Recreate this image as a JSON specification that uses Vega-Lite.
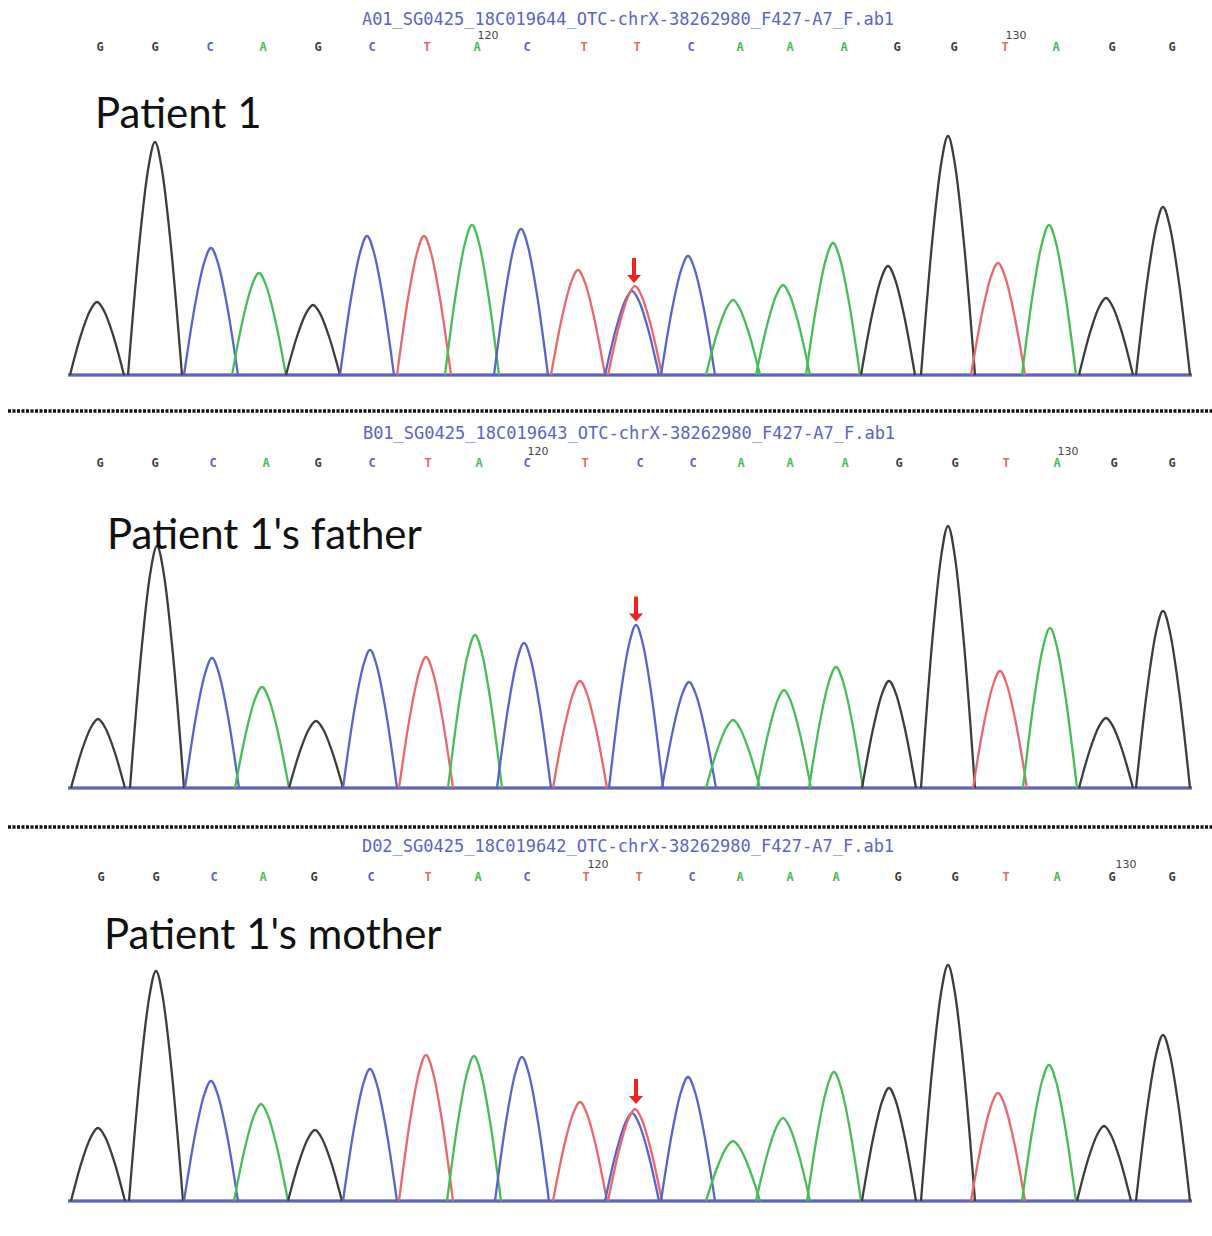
{
"$schema":"https://vega.github.io/schema/vega-lite/v6.json",
"background":"white",
"padding":0,
"spacing":0,
"config":{"view":{"stroke":null},"concat":{"spacing":0}},
"datasets":{
"t1":[
{"k":91,"b":"G","x":4068,"y":0},{"k":91,"b":"G","x":5192,"y":0},
{"k":92,"b":"A","x":4068,"y":0},{"k":92,"b":"A","x":5192,"y":0},
{"k":93,"b":"T","x":4068,"y":0},{"k":93,"b":"T","x":5192,"y":0},
{"k":94,"b":"C","x":4068,"y":0},{"k":94,"b":"C","x":5192,"y":0},
{"k":1,"b":"G","x":4070,"y":0},{"k":1,"b":"G","x":4081,"y":402},{"k":1,"b":"G","x":4090,"y":642},{"k":1,"b":"G","x":4097,"y":730},{"k":1,"b":"G","x":4104,"y":642},{"k":1,"b":"G","x":4113,"y":402},{"k":1,"b":"G","x":4124,"y":0},
{"k":2,"b":"G","x":4128,"y":0},{"k":2,"b":"G","x":4139,"y":1282},{"k":2,"b":"G","x":4148,"y":2050},{"k":2,"b":"G","x":4155,"y":2330},{"k":2,"b":"G","x":4162,"y":2050},{"k":2,"b":"G","x":4171,"y":1282},{"k":2,"b":"G","x":4182,"y":0},
{"k":3,"b":"C","x":4184,"y":0},{"k":3,"b":"C","x":4195,"y":699},{"k":3,"b":"C","x":4204,"y":1118},{"k":3,"b":"C","x":4211,"y":1270},{"k":3,"b":"C","x":4218,"y":1118},{"k":3,"b":"C","x":4227,"y":699},{"k":3,"b":"C","x":4238,"y":0},
{"k":4,"b":"A","x":4232,"y":0},{"k":4,"b":"A","x":4243,"y":561},{"k":4,"b":"A","x":4252,"y":898},{"k":4,"b":"A","x":4259,"y":1020},{"k":4,"b":"A","x":4266,"y":898},{"k":4,"b":"A","x":4275,"y":561},{"k":4,"b":"A","x":4286,"y":0},
{"k":5,"b":"G","x":4286,"y":0},{"k":5,"b":"G","x":4297,"y":385},{"k":5,"b":"G","x":4306,"y":616},{"k":5,"b":"G","x":4313,"y":700},{"k":5,"b":"G","x":4320,"y":616},{"k":5,"b":"G","x":4329,"y":385},{"k":5,"b":"G","x":4340,"y":0},
{"k":6,"b":"C","x":4340,"y":0},{"k":6,"b":"C","x":4351,"y":765},{"k":6,"b":"C","x":4360,"y":1223},{"k":6,"b":"C","x":4367,"y":1390},{"k":6,"b":"C","x":4374,"y":1223},{"k":6,"b":"C","x":4383,"y":765},{"k":6,"b":"C","x":4394,"y":0},
{"k":7,"b":"T","x":4397,"y":0},{"k":7,"b":"T","x":4408,"y":765},{"k":7,"b":"T","x":4417,"y":1223},{"k":7,"b":"T","x":4424,"y":1390},{"k":7,"b":"T","x":4431,"y":1223},{"k":7,"b":"T","x":4440,"y":765},{"k":7,"b":"T","x":4451,"y":0},
{"k":8,"b":"A","x":4445,"y":0},{"k":8,"b":"A","x":4456,"y":825},{"k":8,"b":"A","x":4465,"y":1320},{"k":8,"b":"A","x":4472,"y":1500},{"k":8,"b":"A","x":4479,"y":1320},{"k":8,"b":"A","x":4488,"y":825},{"k":8,"b":"A","x":4499,"y":0},
{"k":9,"b":"C","x":4494,"y":0},{"k":9,"b":"C","x":4505,"y":803},{"k":9,"b":"C","x":4514,"y":1285},{"k":9,"b":"C","x":4521,"y":1460},{"k":9,"b":"C","x":4528,"y":1285},{"k":9,"b":"C","x":4537,"y":803},{"k":9,"b":"C","x":4548,"y":0},
{"k":10,"b":"T","x":4551,"y":0},{"k":10,"b":"T","x":4562,"y":578},{"k":10,"b":"T","x":4571,"y":924},{"k":10,"b":"T","x":4578,"y":1050},{"k":10,"b":"T","x":4585,"y":924},{"k":10,"b":"T","x":4594,"y":578},{"k":10,"b":"T","x":4605,"y":0},
{"k":22,"b":"C","x":4605,"y":0},{"k":22,"b":"C","x":4616,"y":462},{"k":22,"b":"C","x":4625,"y":739},{"k":22,"b":"C","x":4632,"y":840},{"k":22,"b":"C","x":4639,"y":739},{"k":22,"b":"C","x":4648,"y":462},{"k":22,"b":"C","x":4659,"y":0},
{"k":11,"b":"T","x":4608,"y":0},{"k":11,"b":"T","x":4619,"y":490},{"k":11,"b":"T","x":4628,"y":783},{"k":11,"b":"T","x":4635,"y":890},{"k":11,"b":"T","x":4642,"y":783},{"k":11,"b":"T","x":4651,"y":490},{"k":11,"b":"T","x":4662,"y":0},
{"k":12,"b":"C","x":4661,"y":0},{"k":12,"b":"C","x":4672,"y":655},{"k":12,"b":"C","x":4681,"y":1047},{"k":12,"b":"C","x":4688,"y":1190},{"k":12,"b":"C","x":4695,"y":1047},{"k":12,"b":"C","x":4704,"y":655},{"k":12,"b":"C","x":4715,"y":0},
{"k":13,"b":"A","x":4706,"y":0},{"k":13,"b":"A","x":4717,"y":413},{"k":13,"b":"A","x":4726,"y":660},{"k":13,"b":"A","x":4733,"y":750},{"k":13,"b":"A","x":4740,"y":660},{"k":13,"b":"A","x":4749,"y":413},{"k":13,"b":"A","x":4760,"y":0},
{"k":14,"b":"A","x":4756,"y":0},{"k":14,"b":"A","x":4767,"y":495},{"k":14,"b":"A","x":4776,"y":792},{"k":14,"b":"A","x":4783,"y":900},{"k":14,"b":"A","x":4790,"y":792},{"k":14,"b":"A","x":4799,"y":495},{"k":14,"b":"A","x":4810,"y":0},
{"k":15,"b":"A","x":4806,"y":0},{"k":15,"b":"A","x":4817,"y":726},{"k":15,"b":"A","x":4826,"y":1162},{"k":15,"b":"A","x":4833,"y":1320},{"k":15,"b":"A","x":4840,"y":1162},{"k":15,"b":"A","x":4849,"y":726},{"k":15,"b":"A","x":4860,"y":0},
{"k":16,"b":"G","x":4861,"y":0},{"k":16,"b":"G","x":4872,"y":600},{"k":16,"b":"G","x":4881,"y":959},{"k":16,"b":"G","x":4888,"y":1090},{"k":16,"b":"G","x":4895,"y":959},{"k":16,"b":"G","x":4904,"y":600},{"k":16,"b":"G","x":4915,"y":0},
{"k":17,"b":"G","x":4921,"y":0},{"k":17,"b":"G","x":4932,"y":1315},{"k":17,"b":"G","x":4941,"y":2103},{"k":17,"b":"G","x":4948,"y":2390},{"k":17,"b":"G","x":4955,"y":2103},{"k":17,"b":"G","x":4964,"y":1315},{"k":17,"b":"G","x":4975,"y":0},
{"k":18,"b":"T","x":4971,"y":0},{"k":18,"b":"T","x":4982,"y":616},{"k":18,"b":"T","x":4991,"y":986},{"k":18,"b":"T","x":4998,"y":1120},{"k":18,"b":"T","x":5005,"y":986},{"k":18,"b":"T","x":5014,"y":616},{"k":18,"b":"T","x":5025,"y":0},
{"k":19,"b":"A","x":5022,"y":0},{"k":19,"b":"A","x":5033,"y":825},{"k":19,"b":"A","x":5042,"y":1320},{"k":19,"b":"A","x":5049,"y":1500},{"k":19,"b":"A","x":5056,"y":1320},{"k":19,"b":"A","x":5065,"y":825},{"k":19,"b":"A","x":5076,"y":0},
{"k":20,"b":"G","x":5079,"y":0},{"k":20,"b":"G","x":5090,"y":424},{"k":20,"b":"G","x":5099,"y":678},{"k":20,"b":"G","x":5106,"y":770},{"k":20,"b":"G","x":5113,"y":678},{"k":20,"b":"G","x":5122,"y":424},{"k":20,"b":"G","x":5133,"y":0},
{"k":21,"b":"G","x":5136,"y":0},{"k":21,"b":"G","x":5147,"y":924},{"k":21,"b":"G","x":5156,"y":1478},{"k":21,"b":"G","x":5163,"y":1680},{"k":21,"b":"G","x":5170,"y":1478},{"k":21,"b":"G","x":5179,"y":924},{"k":21,"b":"G","x":5190,"y":0}
],
"t2":[
{"k":91,"b":"G","x":4068,"y":0},{"k":91,"b":"G","x":5192,"y":0},
{"k":92,"b":"A","x":4068,"y":0},{"k":92,"b":"A","x":5192,"y":0},
{"k":93,"b":"T","x":4068,"y":0},{"k":93,"b":"T","x":5192,"y":0},
{"k":94,"b":"C","x":4068,"y":0},{"k":94,"b":"C","x":5192,"y":0},
{"k":1,"b":"G","x":4071,"y":0},{"k":1,"b":"G","x":4082,"y":380},{"k":1,"b":"G","x":4091,"y":607},{"k":1,"b":"G","x":4098,"y":690},{"k":1,"b":"G","x":4105,"y":607},{"k":1,"b":"G","x":4114,"y":380},{"k":1,"b":"G","x":4125,"y":0},
{"k":2,"b":"G","x":4130,"y":0},{"k":2,"b":"G","x":4141,"y":1331},{"k":2,"b":"G","x":4150,"y":2130},{"k":2,"b":"G","x":4157,"y":2420},{"k":2,"b":"G","x":4164,"y":2130},{"k":2,"b":"G","x":4173,"y":1331},{"k":2,"b":"G","x":4184,"y":0},
{"k":3,"b":"C","x":4185,"y":0},{"k":3,"b":"C","x":4196,"y":715},{"k":3,"b":"C","x":4205,"y":1144},{"k":3,"b":"C","x":4212,"y":1300},{"k":3,"b":"C","x":4219,"y":1144},{"k":3,"b":"C","x":4228,"y":715},{"k":3,"b":"C","x":4239,"y":0},
{"k":4,"b":"A","x":4235,"y":0},{"k":4,"b":"A","x":4246,"y":556},{"k":4,"b":"A","x":4255,"y":889},{"k":4,"b":"A","x":4262,"y":1010},{"k":4,"b":"A","x":4269,"y":889},{"k":4,"b":"A","x":4278,"y":556},{"k":4,"b":"A","x":4289,"y":0},
{"k":5,"b":"G","x":4289,"y":0},{"k":5,"b":"G","x":4300,"y":369},{"k":5,"b":"G","x":4309,"y":590},{"k":5,"b":"G","x":4316,"y":670},{"k":5,"b":"G","x":4323,"y":590},{"k":5,"b":"G","x":4332,"y":369},{"k":5,"b":"G","x":4343,"y":0},
{"k":6,"b":"C","x":4343,"y":0},{"k":6,"b":"C","x":4354,"y":759},{"k":6,"b":"C","x":4363,"y":1214},{"k":6,"b":"C","x":4370,"y":1380},{"k":6,"b":"C","x":4377,"y":1214},{"k":6,"b":"C","x":4386,"y":759},{"k":6,"b":"C","x":4397,"y":0},
{"k":7,"b":"T","x":4399,"y":0},{"k":7,"b":"T","x":4410,"y":721},{"k":7,"b":"T","x":4419,"y":1153},{"k":7,"b":"T","x":4426,"y":1310},{"k":7,"b":"T","x":4433,"y":1153},{"k":7,"b":"T","x":4442,"y":721},{"k":7,"b":"T","x":4453,"y":0},
{"k":8,"b":"A","x":4448,"y":0},{"k":8,"b":"A","x":4459,"y":842},{"k":8,"b":"A","x":4468,"y":1346},{"k":8,"b":"A","x":4475,"y":1530},{"k":8,"b":"A","x":4482,"y":1346},{"k":8,"b":"A","x":4491,"y":842},{"k":8,"b":"A","x":4502,"y":0},
{"k":9,"b":"C","x":4497,"y":0},{"k":9,"b":"C","x":4508,"y":798},{"k":9,"b":"C","x":4517,"y":1276},{"k":9,"b":"C","x":4524,"y":1450},{"k":9,"b":"C","x":4531,"y":1276},{"k":9,"b":"C","x":4540,"y":798},{"k":9,"b":"C","x":4551,"y":0},
{"k":10,"b":"T","x":4553,"y":0},{"k":10,"b":"T","x":4564,"y":589},{"k":10,"b":"T","x":4573,"y":942},{"k":10,"b":"T","x":4580,"y":1070},{"k":10,"b":"T","x":4587,"y":942},{"k":10,"b":"T","x":4596,"y":589},{"k":10,"b":"T","x":4607,"y":0},
{"k":11,"b":"C","x":4609,"y":0},{"k":11,"b":"C","x":4620,"y":897},{"k":11,"b":"C","x":4629,"y":1434},{"k":11,"b":"C","x":4636,"y":1630},{"k":11,"b":"C","x":4643,"y":1434},{"k":11,"b":"C","x":4652,"y":897},{"k":11,"b":"C","x":4663,"y":0},
{"k":12,"b":"C","x":4662,"y":0},{"k":12,"b":"C","x":4673,"y":583},{"k":12,"b":"C","x":4682,"y":933},{"k":12,"b":"C","x":4689,"y":1060},{"k":12,"b":"C","x":4696,"y":933},{"k":12,"b":"C","x":4705,"y":583},{"k":12,"b":"C","x":4716,"y":0},
{"k":13,"b":"A","x":4706,"y":0},{"k":13,"b":"A","x":4717,"y":374},{"k":13,"b":"A","x":4726,"y":598},{"k":13,"b":"A","x":4733,"y":680},{"k":13,"b":"A","x":4740,"y":598},{"k":13,"b":"A","x":4749,"y":374},{"k":13,"b":"A","x":4760,"y":0},
{"k":14,"b":"A","x":4757,"y":0},{"k":14,"b":"A","x":4768,"y":539},{"k":14,"b":"A","x":4777,"y":862},{"k":14,"b":"A","x":4784,"y":980},{"k":14,"b":"A","x":4791,"y":862},{"k":14,"b":"A","x":4800,"y":539},{"k":14,"b":"A","x":4811,"y":0},
{"k":15,"b":"A","x":4809,"y":0},{"k":15,"b":"A","x":4820,"y":666},{"k":15,"b":"A","x":4829,"y":1065},{"k":15,"b":"A","x":4836,"y":1210},{"k":15,"b":"A","x":4843,"y":1065},{"k":15,"b":"A","x":4852,"y":666},{"k":15,"b":"A","x":4863,"y":0},
{"k":16,"b":"G","x":4862,"y":0},{"k":16,"b":"G","x":4873,"y":589},{"k":16,"b":"G","x":4882,"y":942},{"k":16,"b":"G","x":4889,"y":1070},{"k":16,"b":"G","x":4896,"y":942},{"k":16,"b":"G","x":4905,"y":589},{"k":16,"b":"G","x":4916,"y":0},
{"k":17,"b":"G","x":4921,"y":0},{"k":17,"b":"G","x":4932,"y":1441},{"k":17,"b":"G","x":4941,"y":2306},{"k":17,"b":"G","x":4948,"y":2620},{"k":17,"b":"G","x":4955,"y":2306},{"k":17,"b":"G","x":4964,"y":1441},{"k":17,"b":"G","x":4975,"y":0},
{"k":18,"b":"T","x":4973,"y":0},{"k":18,"b":"T","x":4984,"y":644},{"k":18,"b":"T","x":4993,"y":1030},{"k":18,"b":"T","x":5000,"y":1170},{"k":18,"b":"T","x":5007,"y":1030},{"k":18,"b":"T","x":5016,"y":644},{"k":18,"b":"T","x":5027,"y":0},
{"k":19,"b":"A","x":5023,"y":0},{"k":19,"b":"A","x":5034,"y":880},{"k":19,"b":"A","x":5043,"y":1408},{"k":19,"b":"A","x":5050,"y":1600},{"k":19,"b":"A","x":5057,"y":1408},{"k":19,"b":"A","x":5066,"y":880},{"k":19,"b":"A","x":5077,"y":0},
{"k":20,"b":"G","x":5079,"y":0},{"k":20,"b":"G","x":5090,"y":385},{"k":20,"b":"G","x":5099,"y":616},{"k":20,"b":"G","x":5106,"y":700},{"k":20,"b":"G","x":5113,"y":616},{"k":20,"b":"G","x":5122,"y":385},{"k":20,"b":"G","x":5133,"y":0},
{"k":21,"b":"G","x":5136,"y":0},{"k":21,"b":"G","x":5147,"y":974},{"k":21,"b":"G","x":5156,"y":1558},{"k":21,"b":"G","x":5163,"y":1770},{"k":21,"b":"G","x":5170,"y":1558},{"k":21,"b":"G","x":5179,"y":974},{"k":21,"b":"G","x":5190,"y":0}
],
"t3":[
{"k":91,"b":"G","x":4068,"y":0},{"k":91,"b":"G","x":5192,"y":0},
{"k":92,"b":"A","x":4068,"y":0},{"k":92,"b":"A","x":5192,"y":0},
{"k":93,"b":"T","x":4068,"y":0},{"k":93,"b":"T","x":5192,"y":0},
{"k":94,"b":"C","x":4068,"y":0},{"k":94,"b":"C","x":5192,"y":0},
{"k":1,"b":"G","x":4071,"y":0},{"k":1,"b":"G","x":4082,"y":402},{"k":1,"b":"G","x":4091,"y":642},{"k":1,"b":"G","x":4098,"y":730},{"k":1,"b":"G","x":4105,"y":642},{"k":1,"b":"G","x":4114,"y":402},{"k":1,"b":"G","x":4125,"y":0},
{"k":2,"b":"G","x":4129,"y":0},{"k":2,"b":"G","x":4140,"y":1265},{"k":2,"b":"G","x":4149,"y":2024},{"k":2,"b":"G","x":4156,"y":2300},{"k":2,"b":"G","x":4163,"y":2024},{"k":2,"b":"G","x":4172,"y":1265},{"k":2,"b":"G","x":4183,"y":0},
{"k":3,"b":"C","x":4184,"y":0},{"k":3,"b":"C","x":4195,"y":660},{"k":3,"b":"C","x":4204,"y":1056},{"k":3,"b":"C","x":4211,"y":1200},{"k":3,"b":"C","x":4218,"y":1056},{"k":3,"b":"C","x":4227,"y":660},{"k":3,"b":"C","x":4238,"y":0},
{"k":4,"b":"A","x":4234,"y":0},{"k":4,"b":"A","x":4245,"y":534},{"k":4,"b":"A","x":4254,"y":854},{"k":4,"b":"A","x":4261,"y":970},{"k":4,"b":"A","x":4268,"y":854},{"k":4,"b":"A","x":4277,"y":534},{"k":4,"b":"A","x":4288,"y":0},
{"k":5,"b":"G","x":4288,"y":0},{"k":5,"b":"G","x":4299,"y":391},{"k":5,"b":"G","x":4308,"y":625},{"k":5,"b":"G","x":4315,"y":710},{"k":5,"b":"G","x":4322,"y":625},{"k":5,"b":"G","x":4331,"y":391},{"k":5,"b":"G","x":4342,"y":0},
{"k":6,"b":"C","x":4343,"y":0},{"k":6,"b":"C","x":4354,"y":726},{"k":6,"b":"C","x":4363,"y":1162},{"k":6,"b":"C","x":4370,"y":1320},{"k":6,"b":"C","x":4377,"y":1162},{"k":6,"b":"C","x":4386,"y":726},{"k":6,"b":"C","x":4397,"y":0},
{"k":7,"b":"T","x":4399,"y":0},{"k":7,"b":"T","x":4410,"y":803},{"k":7,"b":"T","x":4419,"y":1285},{"k":7,"b":"T","x":4426,"y":1460},{"k":7,"b":"T","x":4433,"y":1285},{"k":7,"b":"T","x":4442,"y":803},{"k":7,"b":"T","x":4453,"y":0},
{"k":8,"b":"A","x":4447,"y":0},{"k":8,"b":"A","x":4458,"y":798},{"k":8,"b":"A","x":4467,"y":1276},{"k":8,"b":"A","x":4474,"y":1450},{"k":8,"b":"A","x":4481,"y":1276},{"k":8,"b":"A","x":4490,"y":798},{"k":8,"b":"A","x":4501,"y":0},
{"k":9,"b":"C","x":4495,"y":0},{"k":9,"b":"C","x":4506,"y":792},{"k":9,"b":"C","x":4515,"y":1267},{"k":9,"b":"C","x":4522,"y":1440},{"k":9,"b":"C","x":4529,"y":1267},{"k":9,"b":"C","x":4538,"y":792},{"k":9,"b":"C","x":4549,"y":0},
{"k":10,"b":"T","x":4553,"y":0},{"k":10,"b":"T","x":4564,"y":545},{"k":10,"b":"T","x":4573,"y":871},{"k":10,"b":"T","x":4580,"y":990},{"k":10,"b":"T","x":4587,"y":871},{"k":10,"b":"T","x":4596,"y":545},{"k":10,"b":"T","x":4607,"y":0},
{"k":22,"b":"C","x":4605,"y":0},{"k":22,"b":"C","x":4616,"y":484},{"k":22,"b":"C","x":4625,"y":774},{"k":22,"b":"C","x":4632,"y":880},{"k":22,"b":"C","x":4639,"y":774},{"k":22,"b":"C","x":4648,"y":484},{"k":22,"b":"C","x":4659,"y":0},
{"k":11,"b":"T","x":4608,"y":0},{"k":11,"b":"T","x":4619,"y":506},{"k":11,"b":"T","x":4628,"y":810},{"k":11,"b":"T","x":4635,"y":920},{"k":11,"b":"T","x":4642,"y":810},{"k":11,"b":"T","x":4651,"y":506},{"k":11,"b":"T","x":4662,"y":0},
{"k":12,"b":"C","x":4661,"y":0},{"k":12,"b":"C","x":4672,"y":682},{"k":12,"b":"C","x":4681,"y":1091},{"k":12,"b":"C","x":4688,"y":1240},{"k":12,"b":"C","x":4695,"y":1091},{"k":12,"b":"C","x":4704,"y":682},{"k":12,"b":"C","x":4715,"y":0},
{"k":13,"b":"A","x":4706,"y":0},{"k":13,"b":"A","x":4717,"y":330},{"k":13,"b":"A","x":4726,"y":528},{"k":13,"b":"A","x":4733,"y":600},{"k":13,"b":"A","x":4740,"y":528},{"k":13,"b":"A","x":4749,"y":330},{"k":13,"b":"A","x":4760,"y":0},
{"k":14,"b":"A","x":4756,"y":0},{"k":14,"b":"A","x":4767,"y":457},{"k":14,"b":"A","x":4776,"y":730},{"k":14,"b":"A","x":4783,"y":830},{"k":14,"b":"A","x":4790,"y":730},{"k":14,"b":"A","x":4799,"y":457},{"k":14,"b":"A","x":4810,"y":0},
{"k":15,"b":"A","x":4807,"y":0},{"k":15,"b":"A","x":4818,"y":710},{"k":15,"b":"A","x":4827,"y":1135},{"k":15,"b":"A","x":4834,"y":1290},{"k":15,"b":"A","x":4841,"y":1135},{"k":15,"b":"A","x":4850,"y":710},{"k":15,"b":"A","x":4861,"y":0},
{"k":16,"b":"G","x":4862,"y":0},{"k":16,"b":"G","x":4873,"y":622},{"k":16,"b":"G","x":4882,"y":994},{"k":16,"b":"G","x":4889,"y":1130},{"k":16,"b":"G","x":4896,"y":994},{"k":16,"b":"G","x":4905,"y":622},{"k":16,"b":"G","x":4916,"y":0},
{"k":17,"b":"G","x":4921,"y":0},{"k":17,"b":"G","x":4932,"y":1298},{"k":17,"b":"G","x":4941,"y":2077},{"k":17,"b":"G","x":4948,"y":2360},{"k":17,"b":"G","x":4955,"y":2077},{"k":17,"b":"G","x":4964,"y":1298},{"k":17,"b":"G","x":4975,"y":0},
{"k":18,"b":"T","x":4971,"y":0},{"k":18,"b":"T","x":4982,"y":594},{"k":18,"b":"T","x":4991,"y":950},{"k":18,"b":"T","x":4998,"y":1080},{"k":18,"b":"T","x":5005,"y":950},{"k":18,"b":"T","x":5014,"y":594},{"k":18,"b":"T","x":5025,"y":0},
{"k":19,"b":"A","x":5022,"y":0},{"k":19,"b":"A","x":5033,"y":748},{"k":19,"b":"A","x":5042,"y":1197},{"k":19,"b":"A","x":5049,"y":1360},{"k":19,"b":"A","x":5056,"y":1197},{"k":19,"b":"A","x":5065,"y":748},{"k":19,"b":"A","x":5076,"y":0},
{"k":20,"b":"G","x":5077,"y":0},{"k":20,"b":"G","x":5088,"y":413},{"k":20,"b":"G","x":5097,"y":660},{"k":20,"b":"G","x":5104,"y":750},{"k":20,"b":"G","x":5111,"y":660},{"k":20,"b":"G","x":5120,"y":413},{"k":20,"b":"G","x":5131,"y":0},
{"k":21,"b":"G","x":5136,"y":0},{"k":21,"b":"G","x":5147,"y":913},{"k":21,"b":"G","x":5156,"y":1461},{"k":21,"b":"G","x":5163,"y":1660},{"k":21,"b":"G","x":5170,"y":1461},{"k":21,"b":"G","x":5179,"y":913},{"k":21,"b":"G","x":5190,"y":0}
],
"c1":[{"b":"G","x":4100},{"b":"G","x":4155},{"b":"C","x":4210},{"b":"A","x":4263},{"b":"G","x":4318},{"b":"C","x":4372},{"b":"T","x":4427},{"b":"A","x":4477},{"b":"C","x":4527},{"b":"T","x":4584},{"b":"T","x":4637},{"b":"C","x":4691},{"b":"A","x":4740},{"b":"A","x":4790},{"b":"A","x":4844},{"b":"G","x":4897},{"b":"G","x":4954},{"b":"T","x":5005},{"b":"A","x":5056},{"b":"G","x":5112},{"b":"G","x":5172}],
"c2":[{"b":"G","x":4100},{"b":"G","x":4155},{"b":"C","x":4213},{"b":"A","x":4266},{"b":"G","x":4318},{"b":"C","x":4372},{"b":"T","x":4428},{"b":"A","x":4479},{"b":"C","x":4527},{"b":"T","x":4585},{"b":"C","x":4640},{"b":"C","x":4693},{"b":"A","x":4741},{"b":"A","x":4790},{"b":"A","x":4845},{"b":"G","x":4899},{"b":"G","x":4955},{"b":"T","x":5006},{"b":"A","x":5057},{"b":"G","x":5114},{"b":"G","x":5172}],
"c3":[{"b":"G","x":4101},{"b":"G","x":4156},{"b":"C","x":4214},{"b":"A","x":4263},{"b":"G","x":4314},{"b":"C","x":4371},{"b":"T","x":4428},{"b":"A","x":4478},{"b":"C","x":4527},{"b":"T","x":4586},{"b":"T","x":4639},{"b":"C","x":4692},{"b":"A","x":4740},{"b":"A","x":4790},{"b":"A","x":4836},{"b":"G","x":4898},{"b":"G","x":4955},{"b":"T","x":5006},{"b":"A","x":5057},{"b":"G","x":5112},{"b":"G","x":5172}],
"n1":[{"n":"120","x":4488},{"n":"130","x":5016}],
"n2":[{"n":"120","x":4538},{"n":"130","x":5068}],
"n3":[{"n":"120","x":4598},{"n":"130","x":5126}]
},
"vconcat":[
{"width":1212,"height":412,
"layer":[
{"data":{"name":"t1"},"mark":{"type":"line","interpolate":"monotone","strokeWidth":2.3,"strokeJoin":"round"},
"encoding":{"x":{"field":"x","type":"quantitative","scale":{"domain":[4000,5212],"nice":false,"zero":false},"axis":null},
"y":{"field":"y","type":"quantitative","scale":{"domain":[-370,3750],"nice":false,"zero":false},"axis":null},
"color":{"field":"b","type":"nominal","scale":{"domain":["G","C","A","T"],"range":["#3d3d3d","#5864cc","#48bd57","#e8686b"]},"legend":null},
"detail":{"field":"k","type":"nominal"}}},
{"data":{"name":"c1"},"mark":{"type":"text","font":"DejaVu Sans Mono","fontWeight":"bold","fontSize":12,"baseline":"middle"},
"encoding":{"x":{"field":"x","type":"quantitative"},"y":{"datum":3280},"text":{"field":"b"},"color":{"field":"b","type":"nominal"}}},
{"data":{"name":"n1"},"mark":{"type":"text","font":"DejaVu Sans","fontSize":11,"baseline":"middle","color":"#444"},
"encoding":{"x":{"field":"x","type":"quantitative"},"y":{"datum":3390},"text":{"field":"n"}}},
{"data":{"values":[{}]},"mark":{"type":"text","font":"DejaVu Sans Mono","fontSize":17,"baseline":"middle","color":"#5b63c9","text":"A01_SG0425_18C019644_OTC-chrX-38262980_F427-A7_F.ab1"},
"encoding":{"x":{"datum":4628},"y":{"datum":3550}}},
{"data":{"values":[{}]},"mark":{"type":"text","font":"Lato","fontSize":42,"align":"left","baseline":"alphabetic","color":"#111111","text":"Patient 1"},
"encoding":{"x":{"datum":4095},"y":{"datum":2470}}},
{"data":{"values":[{}]},"mark":{"type":"point","shape":"M-0.16,-1L0.16,-1L0.16,0.36L0.56,0.36L0,1L-0.56,0.36L-0.16,0.36Z","size":625,"filled":true,"color":"#f02222","opacity":1,"strokeWidth":0},
"encoding":{"x":{"datum":4634},"y":{"datum":1045}}},
{"data":{"values":[{}]},"mark":{"type":"rule","color":"#111111","strokeWidth":3.5,"strokeDash":[3,1.5]},
"encoding":{"x":{"datum":4008},"x2":{"datum":5212},"y":{"datum":-360}}}
]},
{"width":1212,"height":412,
"layer":[
{"data":{"name":"t2"},"mark":{"type":"line","interpolate":"monotone","strokeWidth":2.3,"strokeJoin":"round"},
"encoding":{"x":{"field":"x","type":"quantitative","scale":{"domain":[4000,5212],"nice":false,"zero":false},"axis":null},
"y":{"field":"y","type":"quantitative","scale":{"domain":[-370,3750],"nice":false,"zero":false},"axis":null},
"color":{"field":"b","type":"nominal","scale":{"domain":["G","C","A","T"],"range":["#3d3d3d","#5864cc","#48bd57","#e8686b"]},"legend":null},
"detail":{"field":"k","type":"nominal"}}},
{"data":{"name":"c2"},"mark":{"type":"text","font":"DejaVu Sans Mono","fontWeight":"bold","fontSize":12,"baseline":"middle"},
"encoding":{"x":{"field":"x","type":"quantitative"},"y":{"datum":3250},"text":{"field":"b"},"color":{"field":"b","type":"nominal"}}},
{"data":{"name":"n2"},"mark":{"type":"text","font":"DejaVu Sans","fontSize":11,"baseline":"middle","color":"#444"},
"encoding":{"x":{"field":"x","type":"quantitative"},"y":{"datum":3365},"text":{"field":"n"}}},
{"data":{"values":[{}]},"mark":{"type":"text","font":"DejaVu Sans Mono","fontSize":17,"baseline":"middle","color":"#5b63c9","text":"B01_SG0425_18C019643_OTC-chrX-38262980_F427-A7_F.ab1"},
"encoding":{"x":{"datum":4629},"y":{"datum":3545}}},
{"data":{"values":[{}]},"mark":{"type":"text","font":"Lato","fontSize":42,"align":"left","baseline":"alphabetic","color":"#111111","text":"Patient 1's father"},
"encoding":{"x":{"datum":4107},"y":{"datum":2390}}},
{"data":{"values":[{}]},"mark":{"type":"point","shape":"M-0.16,-1L0.16,-1L0.16,0.36L0.56,0.36L0,1L-0.56,0.36L-0.16,0.36Z","size":625,"filled":true,"color":"#f02222","opacity":1,"strokeWidth":0},
"encoding":{"x":{"datum":4636},"y":{"datum":1790}}}
]},
{"width":1212,"height":412,
"layer":[
{"data":{"name":"t3"},"mark":{"type":"line","interpolate":"monotone","strokeWidth":2.3,"strokeJoin":"round"},
"encoding":{"x":{"field":"x","type":"quantitative","scale":{"domain":[4000,5212],"nice":false,"zero":false},"axis":null},
"y":{"field":"y","type":"quantitative","scale":{"domain":[-370,3750],"nice":false,"zero":false},"axis":null},
"color":{"field":"b","type":"nominal","scale":{"domain":["G","C","A","T"],"range":["#3d3d3d","#5864cc","#48bd57","#e8686b"]},"legend":null},
"detail":{"field":"k","type":"nominal"}}},
{"data":{"name":"c3"},"mark":{"type":"text","font":"DejaVu Sans Mono","fontWeight":"bold","fontSize":12,"baseline":"middle"},
"encoding":{"x":{"field":"x","type":"quantitative"},"y":{"datum":3240},"text":{"field":"b"},"color":{"field":"b","type":"nominal"}}},
{"data":{"name":"n3"},"mark":{"type":"text","font":"DejaVu Sans","fontSize":11,"baseline":"middle","color":"#444"},
"encoding":{"x":{"field":"x","type":"quantitative"},"y":{"datum":3360},"text":{"field":"n"}}},
{"data":{"values":[{}]},"mark":{"type":"text","font":"DejaVu Sans Mono","fontSize":17,"baseline":"middle","color":"#5b63c9","text":"D02_SG0425_18C019642_OTC-chrX-38262980_F427-A7_F.ab1"},
"encoding":{"x":{"datum":4628},"y":{"datum":3540}}},
{"data":{"values":[{}]},"mark":{"type":"text","font":"Lato","fontSize":42,"align":"left","baseline":"alphabetic","color":"#111111","text":"Patient 1's mother"},
"encoding":{"x":{"datum":4104},"y":{"datum":2520}}},
{"data":{"values":[{}]},"mark":{"type":"point","shape":"M-0.16,-1L0.16,-1L0.16,0.36L0.56,0.36L0,1L-0.56,0.36L-0.16,0.36Z","size":625,"filled":true,"color":"#f02222","opacity":1,"strokeWidth":0},
"encoding":{"x":{"datum":4636},"y":{"datum":1095}}},
{"data":{"values":[{}]},"mark":{"type":"rule","color":"#111111","strokeWidth":3.5,"strokeDash":[3,1.5]},
"encoding":{"x":{"datum":4008},"x2":{"datum":5212},"y":{"datum":3740}}}
]}
]
}
